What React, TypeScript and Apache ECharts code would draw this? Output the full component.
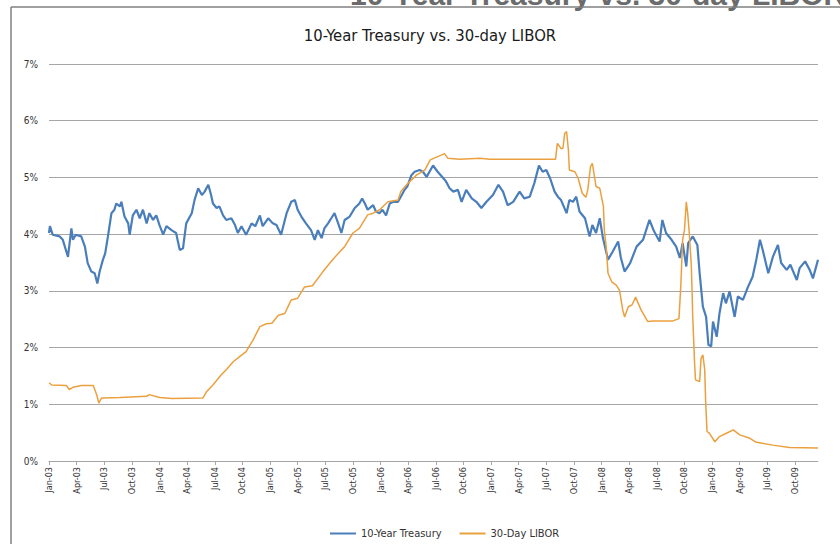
import React, { useEffect, useRef } from "react";
import * as echarts from "echarts";

// x = months since Jan 1, 2003
const tsyX = [
  0.0, 0.1, 0.4, 1.16, 1.5, 2.06, 2.43, 2.6, 2.9, 3.5, 3.9, 4.2, 4.6, 4.96, 5.25, 5.5, 5.86, 6.1, 6.4, 6.78,
  7.1, 7.3, 7.7, 7.86, 8.2, 8.6, 8.76, 9.1, 9.5, 9.85, 10.2, 10.6, 10.9, 11.3, 11.65, 12.0, 12.4, 12.75, 13.3, 13.8,
  14.2, 14.55, 14.9, 15.5, 15.8, 16.2, 16.6, 16.9, 17.3, 17.6, 17.8, 18.2, 18.5, 18.9, 19.25, 19.8, 20.2, 20.5, 20.9, 21.4,
  22.0, 22.4, 22.9, 23.2, 23.8, 24.3, 24.7, 25.2, 25.8, 26.3, 26.7, 27.0, 27.4, 27.9, 28.45, 28.85, 29.2, 29.6, 29.9, 30.3,
  30.65, 31.0, 31.4, 31.75, 32.1, 32.65, 33.2, 33.7, 34.0, 34.3, 34.6, 35.2, 35.5, 35.9, 36.2, 36.6, 37.0, 37.4, 37.9, 38.2,
  38.6, 38.9, 39.35, 39.7, 40.25, 40.6, 41.0, 41.7, 42.2, 42.8, 43.1, 43.5, 43.9, 44.4, 44.8, 45.3, 45.9, 46.4, 46.95, 47.5,
  48.2, 48.8, 49.3, 49.8, 50.4, 51.1, 51.6, 52.2, 52.7, 53.2, 53.6, 54.0, 54.4, 54.9, 55.25, 55.6, 56.2, 56.5, 56.9, 57.25,
  57.6, 58.2, 58.7, 59.0, 59.4, 59.8, 60.15, 60.7, 61.2, 61.8, 62.1, 62.5, 63.1, 63.8, 64.5, 65.2, 65.7, 66.3, 66.6, 67.0,
  67.6, 68.1, 68.5, 68.8, 69.2, 69.4, 69.9, 70.4, 70.65, 71.0, 71.35, 71.6, 71.9, 72.1, 72.5, 72.8, 73.2, 73.5, 73.9, 74.45,
  74.8, 75.35, 75.9, 76.4, 76.8, 77.2, 77.5, 78.1, 78.6, 79.15, 79.5, 80.1, 80.5, 81.2, 81.5, 82.1, 82.6, 82.95, 83.5,
];
const tsyY = [
  4.02, 4.14, 3.99, 3.96, 3.9, 3.6, 4.1, 3.9, 3.99, 3.96, 3.78, 3.49, 3.34, 3.31, 3.13, 3.34, 3.55, 3.66, 3.96, 4.37,
  4.43, 4.54, 4.49, 4.57, 4.31, 4.19, 3.99, 4.33, 4.43, 4.28, 4.43, 4.19, 4.37, 4.25, 4.33, 4.16, 3.99, 4.14, 4.07, 4.02,
  3.72, 3.75, 4.19, 4.37, 4.6, 4.81, 4.69, 4.75, 4.87, 4.69, 4.54, 4.46, 4.49, 4.33, 4.25, 4.28, 4.16, 4.02, 4.14, 3.99,
  4.19, 4.14, 4.33, 4.14, 4.28, 4.19, 4.16, 3.99, 4.37, 4.57, 4.6, 4.43, 4.31, 4.19, 4.07, 3.9, 4.07, 3.93, 4.1, 4.19,
  4.28, 4.37, 4.19, 4.02, 4.25, 4.31, 4.46, 4.54, 4.63, 4.54, 4.43, 4.51, 4.4, 4.37, 4.43, 4.33, 4.54, 4.57, 4.57, 4.66,
  4.78, 4.84, 5.04, 5.1, 5.13, 5.1, 5.01, 5.21, 5.1, 4.99, 4.93, 4.81, 4.75, 4.78, 4.57, 4.78, 4.63, 4.57, 4.46, 4.57,
  4.69, 4.87, 4.75, 4.51, 4.57, 4.75, 4.63, 4.66, 4.9, 5.21, 5.1, 5.13, 4.99, 4.75, 4.66, 4.6, 4.37, 4.6, 4.57, 4.66,
  4.4, 4.28, 3.96, 4.16, 4.02, 4.28, 3.93, 3.55, 3.69, 3.87, 3.58, 3.34, 3.49, 3.78, 3.9, 4.25, 4.05, 3.87, 4.25, 4.02,
  3.9, 3.78, 3.58, 3.84, 3.43, 3.84, 3.96, 3.81, 3.31, 2.72, 2.54, 2.05, 2.02, 2.46, 2.19, 2.6, 2.96, 2.78, 2.99, 2.54,
  2.9, 2.84, 3.07, 3.25, 3.55, 3.9, 3.72, 3.31, 3.6, 3.81, 3.49, 3.37, 3.46, 3.19, 3.4, 3.52, 3.37, 3.22, 3.55,
];

const liborX = [
  0, 0.3, 1.9, 2.2, 2.6, 3.5, 4.8, 5.2, 5.4, 5.7, 7.7, 10.6, 10.9, 12.0, 13.4, 16.7, 17.1, 17.8, 18.7, 19.25,
  20.0, 20.7, 21.4, 22.15, 22.9, 23.6, 24.2, 24.9, 25.6, 26.3, 27.0, 27.75, 28.6, 29.75, 30.5, 31.4, 32.1, 33.0, 33.7, 34.6,
  35.2, 35.9, 36.8, 37.9, 38.2, 39.0, 39.9, 40.8, 41.4, 42.4, 42.95, 43.3, 44.6, 46.8, 47.85, 51.1, 55.0, 55.2, 55.6, 55.8,
  56.0, 56.2, 56.4, 56.5, 57.1, 57.45, 57.9, 58.3, 58.5, 58.8, 59.0, 59.2, 59.4, 59.8, 60.2, 60.3, 60.5, 60.7, 61.1, 61.6,
  61.95, 62.3, 62.5, 62.9, 63.3, 63.7, 63.9, 64.3, 65.0, 65.6, 67.75, 68.4, 68.6, 68.8, 69.0, 69.2, 69.35, 69.5, 69.75, 69.9,
  70.1, 70.2, 70.65, 70.8, 71.0, 71.2, 71.3, 71.45, 71.7, 72.3, 72.8, 73.55, 74.3, 75.0, 76.1, 76.8, 78.6, 80.4, 83.5,
];
const liborY = [
  1.38, 1.34, 1.33, 1.26, 1.3, 1.33, 1.33, 1.16, 1.02, 1.11, 1.12, 1.14, 1.17, 1.12, 1.1, 1.11, 1.22, 1.34, 1.52, 1.61,
  1.75, 1.84, 1.93, 2.13, 2.37, 2.42, 2.43, 2.57, 2.6, 2.84, 2.87, 3.07, 3.09, 3.34, 3.49, 3.66, 3.78, 4.02, 4.1, 4.34,
  4.37, 4.43, 4.57, 4.6, 4.75, 4.9, 5.04, 5.13, 5.31, 5.38, 5.42, 5.34, 5.32, 5.34, 5.32, 5.32, 5.32, 5.6, 5.51, 5.51,
  5.78, 5.81, 5.48, 5.13, 5.1, 4.99, 4.72, 4.65, 4.78, 5.19, 5.25, 5.04, 4.84, 4.81, 4.49, 4.07, 3.78, 3.31, 3.16, 3.1,
  3.01, 2.66, 2.54, 2.72, 2.75, 2.89, 2.81, 2.66, 2.46, 2.47, 2.47, 2.51, 3.07, 3.9, 4.07, 4.57, 4.37, 4.07, 3.43, 2.54,
  1.72, 1.43, 1.4, 1.81, 1.87, 1.61, 1.05, 0.52, 0.49, 0.34, 0.43, 0.49, 0.55, 0.46, 0.4, 0.33, 0.28, 0.24, 0.23,
];

const xTickLabels = [
  "Jan-03", "Apr-03", "Jul-03", "Oct-03", "Jan-04", "Apr-04", "Jul-04", "Oct-04",
  "Jan-05", "Apr-05", "Jul-05", "Oct-05", "Jan-06", "Apr-06", "Jul-06", "Oct-06",
  "Jan-07", "Apr-07", "Jul-07", "Oct-07", "Jan-08", "Apr-08", "Jul-08", "Oct-08",
  "Jan-09", "Apr-09", "Jul-09", "Oct-09",
];
const xTickValues = xTickLabels.map((_, i) => i * 3);

const seriesNames = ["10-Year Treasury", "30-Day LIBOR"];
const chartTitle = "10-Year Treasury vs. 30-day LIBOR";

const FONT = "'Liberation Sans Narrow', 'DejaVu Sans Condensed', 'Roboto Condensed', sans-serif";

export default function App() {
  const ref = useRef<HTMLDivElement>(null);
  useEffect(() => {
    if (!ref.current) return;
    const chart = echarts.init(ref.current, undefined, { renderer: "svg" });
    const tsy = tsyX.map((x, i) => [x, tsyY[i]]);
    const lib = liborX.map((x, i) => [x, liborY[i]]);
    chart.setOption({
      animation: false,
      backgroundColor: "#ffffff",
      grid: { left: 49, right: 22, top: 64, bottom: 83, containLabel: false },
      graphic: [
        {
          type: "text",
          left: 350,
          top: -21,
          style: {
            text: chartTitle,
            fontSize: 30,
            fontWeight: "bold",
            fontFamily: "'Liberation Sans', Arial, sans-serif",
            fill: "#6b6b6b",
          },
          z: 1,
        },
        {
          type: "line",
          shape: { x1: 11, y1: 7, x2: 840, y2: 7 },
          style: { stroke: "#808080", lineWidth: 1.5 },
          z: 2,
        },
        {
          type: "line",
          shape: { x1: 11, y1: 7, x2: 11, y2: 544 },
          style: { stroke: "#808080", lineWidth: 1.5 },
          z: 2,
        },
        {
          type: "text",
          x: 430,
          y: 35,
          style: {
            text: chartTitle,
            fontSize: 16.5,
            fontFamily: FONT,
            fill: "#1a1a1a",
            align: "center",
            verticalAlign: "middle",
          },
        },
      ],
      legend: {
        data: seriesNames,
        left: 325,
        top: 523,
        icon: "rect",
        itemWidth: 26,
        itemHeight: 2,
        itemGap: 18,
        textStyle: { fontSize: 11, fontFamily: FONT, color: "#333" },
      },
      xAxis: {
        type: "value",
        min: 0,
        max: 83.5,
        interval: 3,
        axisLine: { show: true, lineStyle: { color: "#a6a6a6", width: 1 } },
        axisTick: {
          show: true,
          customValues: xTickValues,
          length: 4,
          lineStyle: { color: "#a6a6a6" },
        },
        axisLabel: {
          customValues: xTickValues,
          rotate: 90,
          margin: 6,
          fontSize: 9,
          fontFamily: FONT,
          color: "#333",
          formatter: (v: number) => xTickLabels[Math.round(v / 3)] ?? "",
        },
        splitLine: { show: false },
      },
      yAxis: {
        type: "value",
        min: 0,
        max: 7,
        interval: 1,
        axisLine: { show: false },
        axisTick: { show: false },
        axisLabel: {
          margin: 11,
          fontSize: 10,
          fontFamily: FONT,
          color: "#333",
          formatter: (v: number) => v + "%",
        },
        splitLine: { lineStyle: { color: "#a6a6a6", width: 1 } },
      },
      series: [
        {
          name: seriesNames[0],
          type: "line",
          data: tsy,
          symbol: "none",
          color: "#4a7ebb",
          lineStyle: { width: 2.2, color: "#4a7ebb" },
        },
        {
          name: seriesNames[1],
          type: "line",
          data: lib,
          symbol: "none",
          color: "#eba03f",
          lineStyle: { width: 1.5, color: "#eba03f" },
        },
      ],
    });
    return () => chart.dispose();
  }, []);
  return (
    <div
      ref={ref}
      style={{ position: "fixed", left: 0, top: 0, width: 840, height: 544 }}
    />
  );
}
